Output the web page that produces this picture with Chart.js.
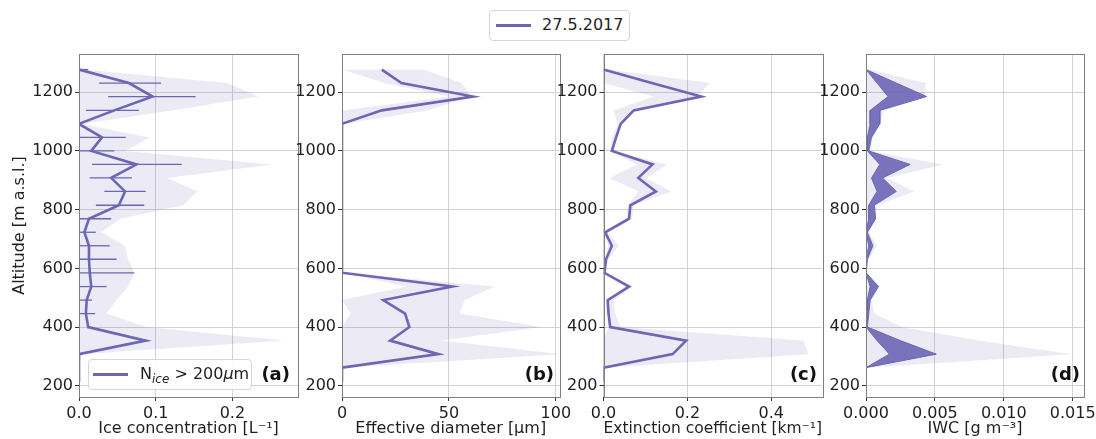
<!DOCTYPE html>
<html>
<head>
<meta charset="utf-8">
<script src="https://cdn.jsdelivr.net/npm/chart.js@4.4.1/dist/chart.umd.min.js"></script>
<style>
  body { margin: 0; width: 1096px; height: 439px; background: #fff; position: relative; overflow: hidden; font-family: "DejaVu Sans", sans-serif; }
  canvas { position: absolute; left: 0; top: 0; }
  .legend { position: absolute; background: #fff; border: 1px solid #d6d6d6; border-radius: 4px; font-size: 16px; color: #1f1f1f; }
  .legend .swatch { position: absolute; height: 3px; background: #6c66b4; }
  .legend .label { position: absolute; white-space: nowrap; line-height: 20px; }
  .legend sub { font-size: 12px; font-style: italic; vertical-align: -4px; line-height: 0; }
  .tag { position: absolute; font-weight: bold; font-size: 18px; color: #111; line-height: 20px; }
</style>
</head>
<body>
<canvas id="panelA" width="1096" height="439"></canvas>
<canvas id="panelB" width="1096" height="439"></canvas>
<canvas id="panelC" width="1096" height="439"></canvas>
<canvas id="panelD" width="1096" height="439"></canvas>

<div class="legend" style="left:489px; top:10px; width:139px; height:29px;">
  <span class="swatch" style="left:6px; top:13px; width:35px;"></span>
  <span class="label" style="left:52px; top:4px;">27.5.2017</span>
</div>
<div class="legend" style="left:88px; top:359px; width:162px; height:29px; background:rgba(255,255,255,0.85);">
  <span class="swatch" style="left:4px; top:13px; width:35px;"></span>
  <span class="label" style="left:51px; top:4px;">N<sub>ice</sub> &gt; 200<i>μ</i>m</span>
</div>
<div class="tag" style="right:806px; top:364px;">(a)</div>
<div class="tag" style="right:542px; top:364px;">(b)</div>
<div class="tag" style="right:279px; top:364px;">(c)</div>
<div class="tag" style="right:16px; top:364px;">(d)</div>

<script>
// altitude levels of the profile, top to bottom [m a.s.l.]
const altitude = [1277, 1231, 1185, 1138, 1092, 1046, 1000, 954, 908, 862, 815, 769,
                  723, 677, 631, 585, 538, 492, 446, 400, 354, 308, 262, 215];
const altitudeTicks = [200, 400, 600, 800, 1000, 1200];

// (a) ice concentration N_ice > 200um [L-1]
const nIce = [0, 0.065, 0.096, 0.046, 0, 0.030, 0.016, 0.075, 0.042, 0.060, 0.052, 0.013,
              0.007, 0.013, 0.013, 0.014, 0.016, 0.010, 0.009, 0.012, 0.087, 0, 0, 0];
const nIceErrLow = [0, 0.026, 0.038, 0.009, null, 0, 0, 0.017, 0.014, 0.033, 0.022, 0,
                    0, 0, 0, 0, 0, 0, 0, null, 0.082, null, null, null];
const nIceErrHigh = [0.012, 0.107, 0.152, 0.078, null, 0.061, 0.046, 0.134, 0.069, 0.087, 0.085, 0.042,
                     0.022, 0.040, 0.049, 0.072, 0.036, 0.017, 0.021, null, 0.090, null, null, null];
const nIceEnvelope = [0.005, 0.193, 0.234, 0.121, 0.003, 0.092, 0.060, 0.252, 0.115, 0.154, 0.136, 0.054,
                      0.029, 0.060, 0.064, 0.072, 0.064, 0.049, 0.036, 0.088, 0.267, 0.003, 0, 0];
const nIceTicks = [0, 0.1, 0.2];

// (b) effective diameter [um]
const diameter = [18.6, 27.8, 61.3, 18.6, 0, 0, 0, 0, 0, 0, 0, 0,
                  0, 0, 0, 0, 51.6, 19.3, 29.5, 31.5, 22.5, 45.1, 0, 0];
const diameterLow = [0, 20, 50, 0, 0, 0, 0, 0, 0, 0, 0, 0,
                     0, 0, 0, 0, 30, 0, 4, 0, 0, 0, 0, 0];
const diameterHigh = [38, 56, 60.5, 40, 0, 0, 0, 0, 0, 0, 0, 0,
                      0, 0, 0, 0, 71.5, 57.3, 55.1, 93.3, 46.5, 102, 0, 0];
const diameterTicks = [0, 50, 100];

// (c) extinction coefficient [km-1]
const extinction = [0, 0.115, 0.233, 0.072, 0.041, 0.030, 0.020, 0.117, 0.083, 0.125, 0.064, 0.061,
                    0.004, 0.020, 0.006, 0.002, 0.061, 0.010, 0.012, 0.016, 0.197, 0.165, 0, 0];
const extinctionLow = [0, 0, 0.12, 0.024, 0.034, 0.020, 0.016, 0.080, 0.014, 0.083, 0.058, 0.055,
                       0, 0.012, 0.003, 0, 0.052, 0.007, 0.008, 0.012, 0, 0, 0, 0];
const extinctionHigh = [0.01, 0.254, 0.222, 0.076, 0.044, 0.032, 0.024, 0.151, 0.103, 0.161, 0.072, 0.068,
                        0.010, 0.036, 0.012, 0.006, 0.070, 0.024, 0.028, 0.040, 0.476, 0.489, 0, 0];
const extinctionTicks = [0, 0.2, 0.4];

// (d) ice water content [g m-3]
const iwcLow = [0, 0.0008, 0.0016, 0.0003, 0.0003, 0.0001, 0.0001, 0.0010, 0.0004, 0.0008, 0.0002, 0.0002,
                0, 0.0002, 0, 0, 0.0003, 0.0001, 0.0001, 0, 0.0008, 0.0017, 0, 0];
const iwcHigh = [0, 0.0022, 0.0044, 0.0010, 0.0010, 0.0004, 0.0002, 0.0032, 0.0012, 0.0022, 0.0006, 0.0007,
                 0.0001, 0.0005, 0.0001, 0, 0.0009, 0.0003, 0.0002, 0.0001, 0.0025, 0.0051, 0, 0];
const iwcEnvelope = [0.0003, 0.0043, 0.0043, 0.0013, 0.0010, 0.0005, 0.0003, 0.0056, 0.0015, 0.0035, 0.0008, 0.0007,
                     0.0002, 0.0008, 0.0002, 0.0001, 0.0010, 0.0004, 0.0006, 0.0026, 0.0082, 0.0149, 0, 0];
const iwcTicks = [0, 0.005, 0.010, 0.015];

const purple = "#6c66b4";
const lightFill = "rgba(108, 102, 180, 0.13)";
const darkFill = "rgba(108, 102, 180, 0.9)";

const PAGE_W = 1096, PAGE_H = 439;
const PLOT_TOP = 54, PLOT_BOTTOM = 397;

Chart.defaults.font.family = "'DejaVu Sans', sans-serif";
Chart.defaults.font.size = 16;
Chart.defaults.color = "#1f1f1f";

const toPoints = (values) => values.map((v, i) => ({ x: v, y: altitude[i] }));

// axes box like matplotlib spines
const frame = {
  id: "frame",
  afterDraw(chart) {
    const { ctx, chartArea: a } = chart;
    ctx.save();
    ctx.strokeStyle = "#808080";
    ctx.lineWidth = 1;
    ctx.strokeRect(Math.round(a.left) + 0.5, Math.round(a.top) + 0.5,
                   Math.round(a.right - a.left), Math.round(a.bottom - a.top));
    ctx.restore();
  },
};

function makePanel(id, cfg) {
  const grid = { color: "#d2d2d2", tickColor: "#333", tickLength: 4, lineWidth: 1 };
  return new Chart(document.getElementById(id), {
    type: "line",
    data: { datasets: cfg.datasets },
    options: {
      indexAxis: "y",
      responsive: false,
      animation: false,
      events: [],
      layout: {
        padding: { left: cfg.left - cfg.yWidth, right: PAGE_W - cfg.right, top: PLOT_TOP, bottom: 0 },
      },
      elements: { point: { radius: 0 }, line: { tension: 0 } },
      plugins: { legend: { display: false }, tooltip: { enabled: false } },
      scales: {
        x: {
          type: "linear",
          min: 0,
          max: cfg.xMax,
          afterBuildTicks: (s) => { s.ticks = cfg.ticks.map((v) => ({ value: v })); },
          afterFit: (s) => { s.height = PAGE_H - PLOT_BOTTOM; s.paddingLeft = 0; s.paddingRight = 0; },
          ticks: { padding: 3, maxRotation: 0, autoSkip: false, callback: (v) => Number(v).toFixed(cfg.decimals) },
          grid: grid,
          border: { display: false },
          title: { display: true, text: cfg.xTitle, padding: { top: 0, bottom: 1 } },
        },
        y: {
          type: "linear",
          min: 162,
          max: 1330,
          afterBuildTicks: (s) => { s.ticks = altitudeTicks.map((v) => ({ value: v })); },
          afterFit: (s) => { s.width = cfg.yWidth; s.paddingTop = 0; s.paddingBottom = 0; },
          ticks: { padding: 2, autoSkip: false, callback: (v) => String(v) },
          grid: grid,
          border: { display: false },
          title: cfg.yTitle
            ? { display: true, text: cfg.yTitle, padding: { top: 5, bottom: 0 } }
            : { display: false },
        },
      },
    },
    plugins: [frame],
  });
}

// (a)
const errorBars = altitude
  .map((alt, i) => nIceErrLow[i] === null ? null : {
    data: [{ x: nIceErrLow[i], y: alt }, { x: nIceErrHigh[i], y: alt }],
    borderColor: purple, borderWidth: 1.3, fill: false,
  })
  .filter(Boolean);

makePanel("panelA", {
  left: 79, right: 298, yWidth: 74, xMax: 0.2855, ticks: nIceTicks, decimals: 1,
  xTitle: "Ice concentration [L\u207B\u00B9]", yTitle: "Altitude [m a.s.l.]",
  datasets: [
    { data: toPoints(nIce), borderColor: purple, borderWidth: 2.6, fill: false },
    ...errorBars,
    { data: toPoints(nIceEnvelope), borderWidth: 0, borderColor: "transparent", backgroundColor: lightFill, fill: "origin" },
  ],
});

// (b)
makePanel("panelB", {
  left: 342, right: 559.5, yWidth: 50, xMax: 101.7, ticks: diameterTicks, decimals: 0,
  xTitle: "Effective diameter [\u03BCm]",
  datasets: [
    { data: toPoints(diameter), borderColor: purple, borderWidth: 2.6, fill: false },
    { data: toPoints(diameterHigh), borderWidth: 0, borderColor: "transparent", backgroundColor: lightFill, fill: "+1" },
    { data: toPoints(diameterLow), borderWidth: 0, borderColor: "transparent", fill: false },
  ],
});

// (c)
makePanel("panelC", {
  left: 603.5, right: 822, yWidth: 50, xMax: 0.521, ticks: extinctionTicks, decimals: 1,
  xTitle: "Extinction coefficient [km\u207B\u00B9]",
  datasets: [
    { data: toPoints(extinction), borderColor: purple, borderWidth: 2.6, fill: false },
    { data: toPoints(extinctionHigh), borderWidth: 0, borderColor: "transparent", backgroundColor: lightFill, fill: "+1" },
    { data: toPoints(extinctionLow), borderWidth: 0, borderColor: "transparent", fill: false },
  ],
});

// (d)
makePanel("panelD", {
  left: 866, right: 1084, yWidth: 50, xMax: 0.01582, ticks: iwcTicks, decimals: 3,
  xTitle: "IWC [g m\u207B\u00B3]",
  datasets: [
    { data: toPoints(iwcHigh), borderColor: purple, borderWidth: 1, backgroundColor: darkFill, fill: "+1" },
    { data: toPoints(iwcLow), borderColor: purple, borderWidth: 1, fill: false },
    { data: toPoints(iwcEnvelope), borderWidth: 0, borderColor: "transparent", backgroundColor: lightFill, fill: "origin" },
  ],
});
</script>
</body>
</html>
